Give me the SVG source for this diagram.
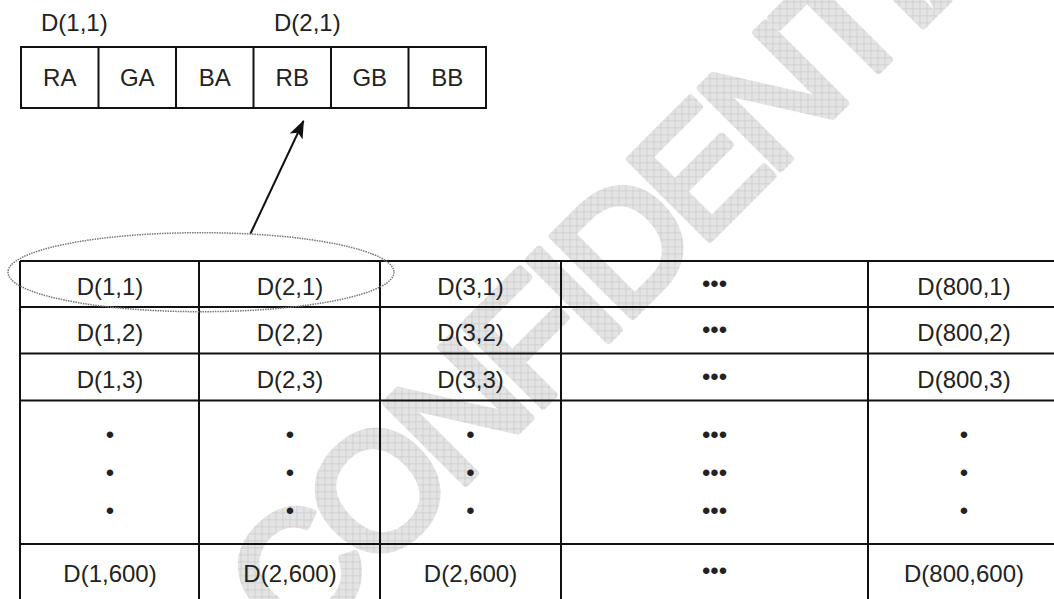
<svg xmlns="http://www.w3.org/2000/svg" width="1054" height="599" viewBox="0 0 1054 599">
<style>
.t{font-family:"Liberation Sans",Arial,sans-serif;font-size:24px;fill:#222;text-anchor:middle}
.l{font-family:"Liberation Sans",Arial,sans-serif;font-size:24px;fill:#222}
.ln{stroke:#111;stroke-width:2;fill:none}
.wm{font-family:"Liberation Sans",Arial,sans-serif;font-size:165px;letter-spacing:-10px;fill:url(#hatch);stroke:url(#hatch);stroke-width:7;stroke-linejoin:round}
</style>
<defs>
<pattern id="hatch" width="7" height="7" patternUnits="userSpaceOnUse" patternTransform="rotate(45)">
<rect width="7" height="7" fill="#e4e4e4"/>
<path d="M0 0.3H7M0.3 0V7" stroke="#c6c6c6" stroke-width="0.8"/>
</pattern>
<marker id="ah" markerWidth="18" markerHeight="14" refX="17" refY="7" orient="auto" markerUnits="userSpaceOnUse">
<path d="M0 0L18 7L0 14L4 7Z" fill="#111"/>
</marker>
</defs>
<rect width="1054" height="599" fill="#fff"/>
<g id="watermark">
<text class="wm" x="295.5" y="653.5" transform="rotate(-45 295.5 653.5)">CONFIDENTIAL</text>
</g>
<g id="pixel-box">
<rect class="ln" x="21" y="47" width="465" height="61"/>
<path class="ln" d="M98.5 47V108M176 47V108M253.5 47V108M331 47V108M408.5 47V108"/>
<text class="l" x="41" y="31">D(1,1)</text>
<text class="l" x="274" y="31">D(2,1)</text>
<text class="t" x="59.75" y="86">RA</text>
<text class="t" x="137.25" y="86">GA</text>
<text class="t" x="214.75" y="86">BA</text>
<text class="t" x="292.25" y="86">RB</text>
<text class="t" x="369.75" y="86">GB</text>
<text class="t" x="447.25" y="86">BB</text>
</g>
<g id="table">
<path class="ln" d="M20 261H1054M20 307H1054M20 353.5H1054M20 400.5H1054M20 544H1054"/>
<path class="ln" d="M20 261V599M199 261V599M380 261V599M561 261V599M868 261V599"/>
<text class="t" x="110" y="294.5">D(1,1)</text>
<text class="t" x="290" y="294.5">D(2,1)</text>
<text class="t" x="470.5" y="294.5">D(3,1)</text>
<text class="t" x="714.5" y="292">•••</text>
<text class="t" x="964" y="294.5">D(800,1)</text>
<text class="t" x="110" y="340.5">D(1,2)</text>
<text class="t" x="290" y="340.5">D(2,2)</text>
<text class="t" x="470.5" y="340.5">D(3,2)</text>
<text class="t" x="714.5" y="338">•••</text>
<text class="t" x="964" y="340.5">D(800,2)</text>
<text class="t" x="110" y="387.5">D(1,3)</text>
<text class="t" x="290" y="387.5">D(2,3)</text>
<text class="t" x="470.5" y="387.5">D(3,3)</text>
<text class="t" x="714.5" y="385">•••</text>
<text class="t" x="964" y="387.5">D(800,3)</text>
<text class="t" x="110" y="442.6">•</text>
<text class="t" x="290" y="442.6">•</text>
<text class="t" x="470.5" y="442.6">•</text>
<text class="t" x="714.5" y="442.6">•••</text>
<text class="t" x="964" y="442.6">•</text>
<text class="t" x="110" y="481">•</text>
<text class="t" x="290" y="481">•</text>
<text class="t" x="470.5" y="481">•</text>
<text class="t" x="714.5" y="481">•••</text>
<text class="t" x="964" y="481">•</text>
<text class="t" x="110" y="519.4">•</text>
<text class="t" x="290" y="519.4">•</text>
<text class="t" x="470.5" y="519.4">•</text>
<text class="t" x="714.5" y="519.4">•••</text>
<text class="t" x="964" y="519.4">•</text>
<text class="t" x="110" y="581.5">D(1,600)</text>
<text class="t" x="290" y="581.5">D(2,600)</text>
<text class="t" x="470.5" y="581.5">D(2,600)</text>
<text class="t" x="714.5" y="579">•••</text>
<text class="t" x="964" y="581.5">D(800,600)</text>
</g>
<g id="connectors">
<ellipse cx="201" cy="272.2" rx="193" ry="39.5" fill="none" stroke="#777" stroke-width="1.5" stroke-dasharray="1.5 1"/>
<line x1="250.5" y1="233.5" x2="303.5" y2="121" stroke="#111" stroke-width="2" marker-end="url(#ah)"/>
</g>
</svg>
